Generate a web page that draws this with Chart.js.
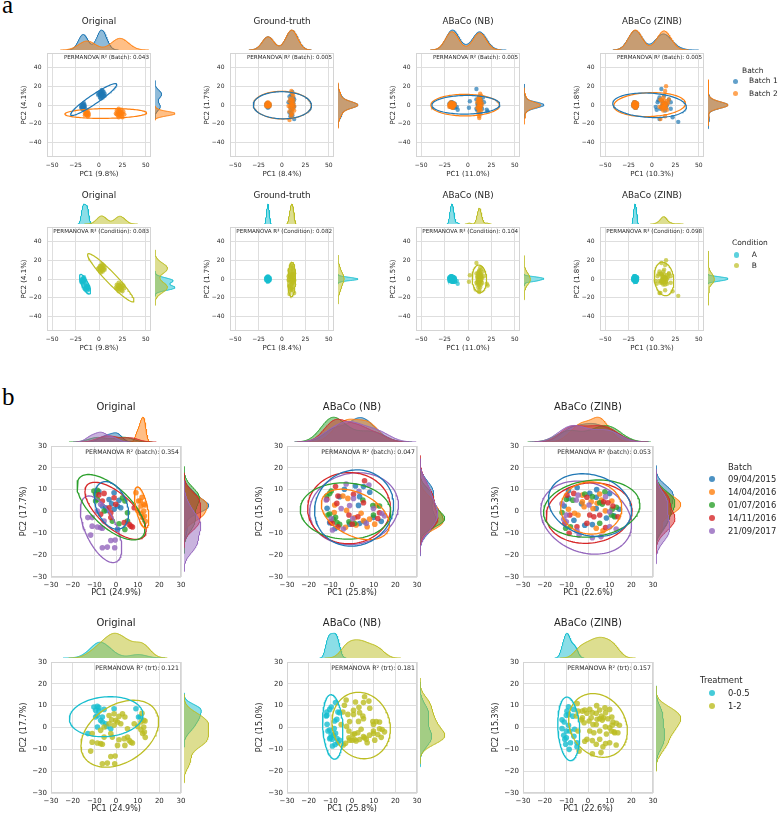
<!DOCTYPE html>
<html>
<head>
<meta charset="utf-8">
<title>PCA before / after batch correction</title>
<script src="https://cdn.jsdelivr.net/npm/chart.js@4.4.1/dist/chart.umd.min.js"></script>
<style>
  html, body { margin: 0; padding: 0; background: #fff; }
  #fig { position: relative; width: 778px; height: 813px; overflow: hidden; font-family: "DejaVu Sans", sans-serif; color: #262626; }
  #fig canvas { position: absolute; }
  .txt { position: absolute; white-space: nowrap; line-height: 1; }
  .letter { position: absolute; font-family: "Liberation Serif", "DejaVu Serif", serif; font-size: 25px; line-height: 1; color: #000; }
  .dot { position: absolute; border-radius: 50%; }
</style>
</head>
<body>
<div id="fig">
  <div class="letter" style="left:2px; top:-8px;">a</div>
  <div class="letter" style="left:2px; top:384px;">b</div>
</div>
<script>
// --- DATA: panel a (simulated counts) ---
const aMethods = ['Original', 'Ground-truth', 'ABaCo (NB)', 'ABaCo (ZINB)'];
const aPc1Labels = ['PC1 (9.8%)', 'PC1 (8.4%)', 'PC1 (11.0%)', 'PC1 (10.3%)'];
const aPc2Labels = ['PC2 (4.1%)', 'PC2 (1.7%)', 'PC2 (1.5%)', 'PC2 (1.8%)'];
const aR2Batch = ['0.043', '0.005', '0.005', '0.005'];
const aR2Condition = ['0.083', '0.082', '0.104', '0.098'];
const aBatchNames = ['Batch 1', 'Batch 2'];
const aConditionNames = ['A', 'B'];
const aTicksX = [-50, -25, 0, 25, 50];
const aTicksY = [-40, -20, 0, 20, 40];
const aRange = [-55.5, 55.5];

// [PC1, PC2] per method, split by batch (B1/B2) and condition (A/B)
const aOrigB1A = [[-17,-2],[-18,0],[-16,-3],[-19,-1],[-17,1],[-15,-1],[-18,-4],[-16,0],[-17,-5],[-19,-3],[-16,-2],[-18,-2],[-15,-4],[-17,-1],[-16,2]];
const aOrigB1B = [[2,11],[3,13],[1,10],[4,12],[0,12],[5,10],[2,14],[3,9],[4,15],[1,8],[6,12],[2,12],[3,11],[-1,11],[5,14],[4,8],[1,14],[3,16],[2,7],[6,10]];
const aOrigB2A = [[-13,-9],[-14,-8],[-12,-10],[-15,-9],[-13,-11],[-12,-7],[-14,-10],[-11,-9],[-13,-8],[-15,-11],[-12,-12],[-14,-7],[-13,-10],[-11,-11],[-12,-8]];
const aOrigB2B = [[21,-9],[23,-8],[19,-10],[25,-9],[22,-6],[24,-12],[20,-7],[26,-7],[22,-11],[18,-9],[24,-5],[21,-13],[27,-10],[23,-10],[20,-11],[25,-13],[22,-8],[19,-6],[24,-8],[21,-4]];

const aGtB1A = [[-15,0],[-16,1],[-14,-1],[-15,2],[-16,-2],[-14,1],[-15,-1],[-17,0],[-13,0],[-15,1],[-16,0],[-14,-2],[-15,-3],[-16,2],[-14,0]];
const aGtB1B = [[10,0],[9,5],[11,-4],[12,8],[8,-8],[10,11],[11,-11],[9,2],[13,-2],[10,-6],[12,4],[8,9],[11,14],[9,-12],[10,-9],[12,-1],[7,3],[13,6],[13,-15],[10,1],[11,-2],[9,-3],[12,2]];
const aGtB2A = [[-15,1],[-16,0],[-14,0],[-15,-2],[-16,2],[-14,2],[-15,0],[-17,1],[-13,-1],[-15,3],[-16,-1],[-14,-1],[-15,-1],[-17,-1],[-13,1]];
const aGtB2B = [[10,1],[11,6],[9,-3],[12,10],[8,-7],[11,12],[10,-10],[12,2],[9,7],[11,-5],[13,-1],[8,4],[10,15],[8,-16],[11,-9],[12,5],[7,-1],[13,-6],[10,-12],[9,-1],[11,0],[12,-3],[10,3]];

const aNbB1A = [[-17,0],[-18,2],[-16,-1],[-19,1],[-17,-2],[-15,1],[-18,-1],[-16,2],[-17,1],[-19,-2],[-16,0],[-18,3],[-12,-2],[-14,-3],[-11,-5],[-17,-1],[-18,0],[-16,1],[-15,-2],[-19,0],[-17,2],[-20,1],[-16,-3],[-18,-2],[-15,0],[-17,3],[-14,1],[-19,2]];
const aNbB1B = [[9,17],[2,4],[1,-3],[9,6],[15,-4],[20,-5],[21,-7],[12,2],[11,-2],[14,5],[10,-6],[13,-9],[16,8],[12,9],[11,0],[14,-1],[17,3],[9,-4],[13,4],[12,-1],[13,1],[11,3],[12,-3],[14,2],[13,-2],[12,0],[11,-1],[10,1]];
const aNbB2A = [[-17,0],[-18,1],[-16,-1],[-19,0],[-17,2],[-15,-1],[-18,-2],[-16,1],[-20,0],[-17,-3],[-15,2],[-19,2],[-16,-3],[-18,0],[-14,0],[-17,1],[-18,3],[-16,0],[-19,-1],[-17,-1],[-15,0],[-18,-1],[-16,2],[-20,-2],[-17,-2],[-19,1]];
const aNbB2B = [[12,0],[11,5],[13,-3],[12,8],[14,-6],[11,-9],[13,2],[12,-12],[10,3],[14,10],[12,-5],[13,6],[11,-1],[15,1],[12,-7],[10,-3],[13,12],[14,-2],[11,7],[12,-14],[13,-1],[12,3],[11,-4],[14,4]];

const aZiB1A = [[-18,0],[-19,1],[-17,-1],[-18,2],[-19,-2],[-17,1],[-18,-1],[-20,0],[-16,0],[-18,1],[-19,0],[-17,-2],[-18,-3],[-19,2],[-17,0],[-18,-2],[-20,1],[-16,1],[-19,-1],[-17,2],[-18,3],[-20,-1],[-16,-1],[-17,-3],[-19,3],[-18,1]];
const aZiB1B = [[10,17],[28,-18],[22,-13],[8,-15],[8,8],[13,10],[5,-5],[14,-6],[20,-4],[16,0],[6,3],[9,-4],[18,6],[12,-3],[7,5],[20,3],[11,4],[15,-3],[4,-2],[12,2],[13,-1],[11,0],[14,1],[10,-2],[15,2],[12,-1]];
const aZiB2A = [[-18,1],[-19,0],[-17,0],[-18,-2],[-19,2],[-17,2],[-18,0],[-20,1],[-16,-1],[-18,3],[-19,-1],[-17,-1],[-18,-1],[-20,-1],[-16,1],[-19,1],[-17,-2],[-18,2],[-20,0],[-16,0],[-19,-2],[-17,1],[-18,-3],[-16,2],[-19,3],[-17,-3]];
const aZiB2B = [[15,20],[14,15],[9,-15],[14,-12],[12,8],[13,5],[11,0],[16,-5],[18,6],[10,-3],[13,2],[12,-6],[17,2],[9,6],[11,-4],[16,4],[8,-2],[13,-1],[15,-3],[10,5],[12,0],[13,-3],[11,3],[14,1],[12,-2],[15,0]];

// --- DATA: panel b (real data) ---
const bMethods = ['Original', 'ABaCo (NB)', 'ABaCo (ZINB)'];
const bPc1Labels = ['PC1 (24.9%)', 'PC1 (25.8%)', 'PC1 (22.6%)'];
const bPc2Labels = ['PC2 (17.7%)', 'PC2 (15.0%)', 'PC2 (15.3%)'];
const bR2Batch = ['0.354', '0.047', '0.053'];
const bR2Trt = ['0.121', '0.181', '0.157'];
const bBatchNames = ['09/04/2015', '14/04/2016', '01/07/2016', '14/11/2016', '21/09/2017'];
const bTrtNames = ['0-0.5', '1-2'];
const bTicks = [-30, -20, -10, 0, 10, 20, 30];
const bRange = [-30, 30];

// rows: [PC1, PC2, batch index, treatment index]
const bOrigPoints = [
  [-10.2,9.4,2,0],[-8.6,9.7,2,0],[-9.4,7.9,2,0],[-8.6,5.6,2,0],[-9.4,4.8,2,0],[3.0,6.3,2,1],[4.1,4.8,2,1],
  [5.3,-0.6,2,1],[5.3,-4.4,2,1],[4.1,-8.2,2,1],[1.4,-5.6,2,1],[-1.7,-4.4,2,1],[-5.5,0.2,2,1],
  [-7.9,9.1,0,0],[-0.9,8.6,0,0],[-4.8,1.7,0,0],[-4.3,0.5,0,0],[-6.3,2.5,0,0],[1.4,5.1,0,1],[0.7,2.5,0,1],
  [2.2,1.7,0,1],[-0.9,1.0,0,1],[-3.2,5.5,0,1],[0.7,-8.2,0,1],[-2.0,3.5,0,1],
  [-7.9,7.6,3,0],[-5.5,8.3,3,0],[-6.3,4.8,3,0],[-2.4,-0.6,3,0],[-0.9,6.3,3,1],[-0.1,3.3,3,1],[-3.2,1.7,3,1],
  [-2.4,-2.8,3,1],[-7.1,-1.3,3,1],[3.8,-5.1,3,1],[6.1,-5.9,3,1],[6.9,-6.7,3,1],[7.6,-7.1,3,1],[8.4,1.7,3,1],
  [-7.1,3.3,4,0],[-8.6,0.2,4,0],[-13.0,-2.8,4,0],[-11.0,-2.8,4,1],[-11.7,-10.8,4,1],[-11.0,-6.7,4,1],[-8.6,-7.1,4,1],
  [-7.1,-7.4,4,1],[-6.3,-7.7,4,1],[-5.5,-4.4,4,1],[-2.4,-13.3,4,1],[-0.4,-13.1,4,1],[-6.3,-16.6,4,1],[-4.0,-16.3,4,1],[-0.6,-16.6,4,1],
  [9.2,8.6,1,0],[10.4,4.8,1,0],[11.2,4.8,1,0],[12.0,6.5,1,1],[10.0,0.5,1,1],[11.5,2.5,1,1],[12.8,3.3,1,1],
  [13.4,3.0,1,1],[12.8,0.2,1,1],[13.1,-2.1,1,1],[12.3,-2.8,1,1],[13.5,-4.5,1,1],[11.5,-1.0,1,1]
];
const bNbPoints = [
  [-7.6,11.4,3,0],[-2.7,12.6,4,1],[1.6,11.7,0,1],[5.3,11.4,0,1],[5.8,14.1,3,1],[7.8,12.1,4,1],[-10.3,8.3,2,0],
  [-9.6,9.4,2,0],[-11.6,7.1,2,0],[-6.5,7.1,3,0],[-5.7,6.8,0,0],[-11.9,5.3,4,0],[-11.6,5.6,3,0],[-1.9,6.0,1,1],
  [0.7,7.9,3,1],[0.7,6.0,4,1],[5.0,5.3,2,1],[5.3,4.0,3,1],[-8.0,3.0,1,0],[-7.0,3.7,3,0],[-5.0,1.4,4,1],
  [-1.1,2.7,4,1],[9.6,2.7,2,1],[11.2,2.7,1,1],[12.7,2.5,2,1],[9.9,1.4,4,1],[13.9,-0.9,4,1],[12.7,-0.6,3,1],
  [-1.4,-1.6,3,1],[2.7,-2.4,3,1],[1.2,-2.9,1,1],[-10.3,-1.2,2,0],[-11.1,-1.6,2,0],[-9.6,-3.2,4,0],[-8.5,-3.6,2,0],
  [-7.6,-2.7,2,0],[-9.9,-4.7,3,0],[-9.1,-5.4,3,0],[-10.3,-5.1,0,0],[-6.9,-5.1,2,0],[-6.5,-7.0,3,0],[-5.7,-5.9,2,0],
  [-1.4,-4.7,2,1],[-1.1,-5.8,0,1],[0.1,-5.8,3,1],[1.2,-5.5,2,1],[1.9,-6.2,1,1],[3.5,-5.5,0,1],[5.3,-4.2,1,1],
  [5.8,-4.7,0,1],[6.6,-5.4,4,1],[8.1,-3.5,1,1],[9.9,-2.7,0,1],[9.9,-1.6,2,1],[11.9,-3.2,3,1],[-4.2,7.1,1,1],
  [3.5,6.8,0,1],[0.4,-3.2,4,1],[-3.5,10.2,0,1],[8.2,8.8,0,1],[-11.5,1.5,0,0],[3.0,2.8,0,1],[-7.8,-7.8,0,0],
  [13.5,-4.5,0,1],[-3.0,-7.2,1,1],[-8.2,-0.5,1,0],[4.2,-0.8,1,1],[7.0,-7.0,1,1],[10.5,-5.8,1,1],[-2.5,0.5,1,1],
  [-9.0,-8.5,4,0],[3.2,9.3,4,1],[15.0,-2.0,4,1],[-4.0,-8.0,4,1]
];
const bZinbPoints = [
  [-9.7,7.5,3,0],[-8.9,6.0,0,0],[-10.0,5.6,2,0],[-6.6,8.3,3,0],[-4.6,7.5,4,1],[-5.4,5.3,4,1],[-2.6,7.5,1,1],
  [-1.5,8.0,2,1],[-0.5,6.5,3,1],[0.8,8.3,0,1],[2.0,6.8,2,1],[3.8,6.5,0,1],[5.4,8.0,1,1],[8.1,6.8,4,1],
  [10.0,8.3,0,1],[5.4,4.0,2,1],[6.6,3.4,2,1],[7.2,4.5,3,1],[9.2,4.0,3,1],[11.5,2.5,3,1],[11.2,1.0,2,1],
  [13.1,1.9,2,1],[3.8,1.4,0,1],[2.3,1.4,1,1],[0.5,3.0,4,1],[10.0,-0.1,4,1],[10.8,-1.6,2,1],[13.8,-2.4,3,1],
  [12.3,-2.4,2,1],[-10.0,-1.6,4,0],[-11.2,-3.6,4,0],[-8.4,-1.6,3,0],[-4.6,-1.6,1,1],[-2.6,4.4,1,1],[0.8,-1.6,3,1],
  [2.7,-2.4,3,1],[5.4,-1.6,3,1],[5.4,-5.4,2,1],[3.8,-7.7,1,1],[6.9,-8.8,1,1],[8.1,-7.3,3,1],[10.0,-7.0,4,1],
  [-10.7,-5.4,3,0],[-10.3,-7.7,2,0],[-8.1,-7.0,2,0],[-8.7,-10.0,3,0],[-5.1,-7.0,3,0],[-5.1,-8.8,4,0],[-4.1,-10.8,4,1],
  [-1.5,-6.3,0,1],[2.0,-6.0,0,1],[-0.5,-5.4,3,1],[-10.0,-4.7,4,0],
  [-11.0,2.5,0,0],[12.0,-2.0,0,1],[-6.5,-4.0,0,0],[8.5,-3.0,0,1],[4.0,10.0,0,1],[-3.0,3.5,0,1],[-9.0,9.5,0,0],[14.5,1.0,0,1],[-5.0,11.0,0,1],
  [6.2,5.2,1,1],[-1.8,2.2,1,1],[4.2,3.8,1,1],[8.0,0.3,1,1],[-6.2,-0.8,1,0],[11.0,4.8,1,1],[-9.0,1.0,1,0],[1.5,4.5,1,1],
  [-7.0,5.2,2,0],[-12.0,-0.5,2,0],[7.8,9.0,2,1],
  [13.0,-8.0,4,1],[6.0,-11.5,4,1],[-12.0,3.5,4,0],[2.0,-12.0,4,1]
];

// --- COLOURS ---
const batchColorsA = ['#1f77b4', '#ff7f0e'];
const hueColors2 = ['#17becf', '#bcbd22'];
const batchColorsB = ['#1f77b4', '#ff7f0e', '#2ca02c', '#d62728', '#9467bd'];

// --- LAYOUT ---
const FONT = '"DejaVu Sans", sans-serif';
const INK = '#262626';
const N_STD = 2.4477; // 95% confidence ellipse
const aLefts = [47, 230, 416, 600], aTops = [53, 227];
const bLefts = [51, 287, 523], bTops = [446, 662];
const styleA = { W: 104, H: 104, marg: 21, gapTop: 3, gapRight: 4, yAxW: 27, xAxH: 21, tickSize: 6, tickPadX: 5, tickPadY: 5.5,
  labelSize: 7, titleSize: 8.8, titleDy: -32.5, noteSize: 5.6, noteDx: 2, noteDy: 4.5, r: 2.2, alpha: 0.7, ellW: 1.2 };
const styleB = { W: 130, H: 131, marg: 26, gapTop: 4, gapRight: 3, yAxW: 32, xAxH: 21, tickSize: 7, tickPadX: 3.8, tickPadY: 4,
  labelSize: 8, titleSize: 10, titleDy: -39, noteSize: 6.2, noteDx: 2, noteDy: 5.7, r: 2.8, alpha: 0.8, ellW: 1.3 };

const fig = document.getElementById('fig');
const BASE = { responsive: false, animation: false, devicePixelRatio: 1, events: [],
  plugins: { legend: { display: false }, tooltip: { enabled: false } } };

function rgba(hex, a) {
  const n = parseInt(hex.slice(1), 16);
  return `rgba(${n >> 16},${(n >> 8) & 255},${n & 255},${a})`;
}

function fmtTick(v) { return v < 0 ? '\u2212' + (-v) : String(v); }

// covariance ellipse of a point cloud
function ellipse(pts) {
  const n = pts.length;
  let mx = 0, my = 0;
  pts.forEach(p => { mx += p[0]; my += p[1]; });
  mx /= n; my /= n;
  let sxx = 0, syy = 0, sxy = 0;
  pts.forEach(p => { const dx = p[0] - mx, dy = p[1] - my; sxx += dx * dx; syy += dy * dy; sxy += dx * dy; });
  sxx /= n - 1; syy /= n - 1; sxy /= n - 1;
  const mid = (sxx + syy) / 2, d = Math.sqrt(((sxx - syy) / 2) ** 2 + sxy * sxy);
  const a = N_STD * Math.sqrt(mid + d), b = N_STD * Math.sqrt(Math.max(mid - d, 0));
  const ang = 0.5 * Math.atan2(2 * sxy, sxx - syy);
  const out = [];
  for (let i = 0; i <= 120; i++) {
    const t = i / 120 * 2 * Math.PI, ex = a * Math.cos(t), ey = b * Math.sin(t);
    out.push({ x: mx + ex * Math.cos(ang) - ey * Math.sin(ang), y: my + ex * Math.sin(ang) + ey * Math.cos(ang) });
  }
  return out;
}

// gaussian KDE, Scott bandwidth, cut = 3 bandwidths, scaled by group share
function kde(vals, weight) {
  const n = vals.length;
  const mean = vals.reduce((s, v) => s + v, 0) / n;
  const sd = Math.sqrt(vals.reduce((s, v) => s + (v - mean) ** 2, 0) / (n - 1));
  const h = sd * Math.pow(n, -0.2);
  const lo = Math.min(...vals) - 3 * h, hi = Math.max(...vals) + 3 * h;
  const out = [];
  for (let i = 0; i <= 200; i++) {
    const x = lo + (hi - lo) * i / 200;
    let s = 0;
    vals.forEach(v => { const z = (x - v) / h; s += Math.exp(-0.5 * z * z); });
    out.push([x, weight * s / (n * h * Math.sqrt(2 * Math.PI))]);
  }
  return out;
}

function makeCanvas(x, y, w, h) {
  const c = document.createElement('canvas');
  c.width = w; c.height = h;
  c.style.left = x + 'px'; c.style.top = y + 'px';
  c.style.width = w + 'px'; c.style.height = h + 'px';
  fig.appendChild(c);
  return c;
}

function addText(str, x, y, size, align) {
  const d = document.createElement('div');
  d.className = 'txt';
  d.textContent = str;
  d.style.left = x + 'px'; d.style.top = y + 'px'; d.style.fontSize = size + 'px';
  const tx = align === 'center' ? '-50%' : align === 'right' ? '-100%' : '0';
  d.style.transform = `translate(${tx}, -50%)`;
  fig.appendChild(d);
}

// light grey box around the plot area
const frame = {
  id: 'frame',
  beforeDatasetsDraw(chart) {
    const { ctx, chartArea: a } = chart;
    ctx.save();
    ctx.strokeStyle = '#d4d4d4';
    ctx.lineWidth = 1;
    ctx.strokeRect(a.left + 0.5, a.top + 0.5, a.width - 1, a.height - 1);
    ctx.restore();
  }
};

function axis(range, ticks, label, st, horizontal) {
  return {
    type: 'linear', min: range[0], max: range[1],
    afterBuildTicks: s => { s.ticks = ticks.map(v => ({ value: v })); },
    afterFit: s => {
      if (horizontal) { s.height = st.xAxH; s.paddingLeft = 0; s.paddingRight = 0; }
      else { s.width = st.yAxW; s.paddingTop = 0; s.paddingBottom = 0; }
    },
    ticks: { font: { family: FONT, size: st.tickSize }, color: INK, padding: horizontal ? st.tickPadX : st.tickPadY,
      callback: v => fmtTick(v), maxRotation: 0, autoSkip: false },
    grid: { color: '#dedede', lineWidth: 1, drawTicks: false },
    border: { display: false },
    title: { display: true, text: label, font: { family: FONT, size: st.labelSize }, color: INK, padding: 0 }
  };
}

function kdeSet(curve, color, i, vertical) {
  return {
    data: curve.map(c => vertical ? { x: c[1], y: c[0] } : { x: c[0], y: c[1] }),
    borderColor: color, backgroundColor: rgba(color, 0.5), borderWidth: 1,
    pointRadius: 0, fill: 'origin', tension: 0, order: 10 - i
  };
}

function drawPanel(st, L, T, groups, range, ticksX, ticksY, title, xLabel, yLabel, note) {
  const W = st.W, H = st.H;
  const total = groups.reduce((s, g) => s + g.pts.length, 0);

  // scatter + ellipses
  const sets = [];
  groups.forEach((g, i) => sets.push({
    data: g.pts.map(p => ({ x: p[0], y: p[1] })),
    backgroundColor: rgba(g.color, st.alpha), borderWidth: 0, pointRadius: st.r, order: 10 - i
  }));
  groups.forEach(g => sets.push({
    data: ellipse(g.pts), showLine: true, borderColor: g.color, borderWidth: st.ellW,
    pointRadius: 0, fill: false, tension: 0, order: 0
  }));
  const PT = 6, PR = 8;
  const main = makeCanvas(L - st.yAxW, T - PT, st.yAxW + W + PR, PT + H + st.xAxH);
  new Chart(main, {
    type: 'scatter',
    data: { datasets: sets },
    options: { ...BASE,
      layout: { padding: { top: PT, right: PR, left: 0, bottom: 0 } },
      scales: { x: axis(range, ticksX, xLabel, st, true), y: axis(range, ticksY, yLabel, st, false) } },
    plugins: [frame]
  });

  // marginal densities
  const tops = groups.map(g => kde(g.pts.map(p => p[0]), g.pts.length / total));
  const sides = groups.map(g => kde(g.pts.map(p => p[1]), g.pts.length / total));
  const topMax = Math.max(...tops.flat().map(c => c[1]));
  const sideMax = Math.max(...sides.flat().map(c => c[1]));

  new Chart(makeCanvas(L, T - st.gapTop - st.marg, W, st.marg), {
    type: 'line',
    data: { datasets: tops.map((c, i) => kdeSet(c, groups[i].color, i, false)) },
    options: { ...BASE, layout: { padding: 0 },
      scales: { x: { type: 'linear', display: false, min: range[0], max: range[1] },
                y: { type: 'linear', display: false, min: 0, max: topMax * 1.05 } } }
  });
  new Chart(makeCanvas(L + W + st.gapRight, T, st.marg, H), {
    type: 'line',
    data: { datasets: sides.map((c, i) => kdeSet(c, groups[i].color, i, true)) },
    options: { ...BASE, indexAxis: 'y', layout: { padding: 0 },
      scales: { x: { type: 'linear', display: false, min: 0, max: sideMax * 1.05 },
                y: { type: 'linear', display: false, min: range[0], max: range[1] } } }
  });

  addText(title, L + W / 2, T + st.titleDy, st.titleSize, 'center');
  addText(note, L + W - st.noteDx, T + st.noteDy, st.noteSize, 'right');
}

function addLegend(lg, title, names, colors) {
  addText(title, lg.titleX, lg.titleY, lg.size, 'left');
  names.forEach((nm, i) => {
    const y = lg.rowY[i];
    const dot = document.createElement('div');
    dot.className = 'dot';
    dot.style.left = (lg.dotX - lg.r) + 'px'; dot.style.top = (y - lg.r) + 'px';
    dot.style.width = dot.style.height = (2 * lg.r) + 'px';
    dot.style.background = rgba(colors[i], lg.alpha);
    fig.appendChild(dot);
    addText(nm, lg.textX, y, lg.size, 'left');
  });
}

// --- PANEL a ---
const aSets = [
  [aOrigB1A, aOrigB1B, aOrigB2A, aOrigB2B],
  [aGtB1A, aGtB1B, aGtB2A, aGtB2B],
  [aNbB1A, aNbB1B, aNbB2A, aNbB2B],
  [aZiB1A, aZiB1B, aZiB2A, aZiB2B]
];
aMethods.forEach((m, k) => {
  const [b1a, b1b, b2a, b2b] = aSets[k];
  drawPanel(styleA, aLefts[k], aTops[0],
    [{ color: batchColorsA[0], pts: b1a.concat(b1b) }, { color: batchColorsA[1], pts: b2a.concat(b2b) }],
    aRange, aTicksX, aTicksY, m, aPc1Labels[k], aPc2Labels[k], 'PERMANOVA R\u00b2 (Batch): ' + aR2Batch[k]);
  drawPanel(styleA, aLefts[k], aTops[1],
    [{ color: hueColors2[0], pts: b1a.concat(b2a) }, { color: hueColors2[1], pts: b1b.concat(b2b) }],
    aRange, aTicksX, aTicksY, m, aPc1Labels[k], aPc2Labels[k], 'PERMANOVA R\u00b2 (Condition): ' + aR2Condition[k]);
});
addLegend({ titleX: 742, titleY: 70.7, dotX: 735.7, textX: 749, rowY: [81.3, 93.7], r: 2.6, size: 7.5, alpha: 0.7 },
  'Batch', aBatchNames, batchColorsA);
addLegend({ titleX: 732, titleY: 243, dotX: 736.7, textX: 751.7, rowY: [255, 265.7], r: 2.6, size: 7.5, alpha: 0.7 },
  'Condition', aConditionNames, hueColors2);

// --- PANEL b ---
const bSets = [bOrigPoints, bNbPoints, bZinbPoints];
bMethods.forEach((m, k) => {
  const rows = bSets[k];
  const byBatch = bBatchNames.map((_, j) => ({ color: batchColorsB[j], pts: rows.filter(r => r[2] === j) }));
  const byTrt = bTrtNames.map((_, j) => ({ color: hueColors2[j], pts: rows.filter(r => r[3] === j) }));
  drawPanel(styleB, bLefts[k], bTops[0], byBatch, bRange, bTicks, bTicks, m, bPc1Labels[k], bPc2Labels[k],
    'PERMANOVA R\u00b2 (batch): ' + bR2Batch[k]);
  drawPanel(styleB, bLefts[k], bTops[1], byTrt, bRange, bTicks, bTicks, m, bPc1Labels[k], bPc2Labels[k],
    'PERMANOVA R\u00b2 (trt): ' + bR2Trt[k]);
});
addLegend({ titleX: 728, titleY: 466.7, dotX: 712.3, textX: 728, rowY: [479.3, 492, 505, 518, 530.7], r: 3.2, size: 8.4, alpha: 0.8 },
  'Batch', bBatchNames, batchColorsB);
addLegend({ titleX: 700, titleY: 680, dotX: 712.3, textX: 728, rowY: [693, 706], r: 3.2, size: 8.4, alpha: 0.8 },
  'Treatment', bTrtNames, hueColors2);
</script>
</body>
</html>
